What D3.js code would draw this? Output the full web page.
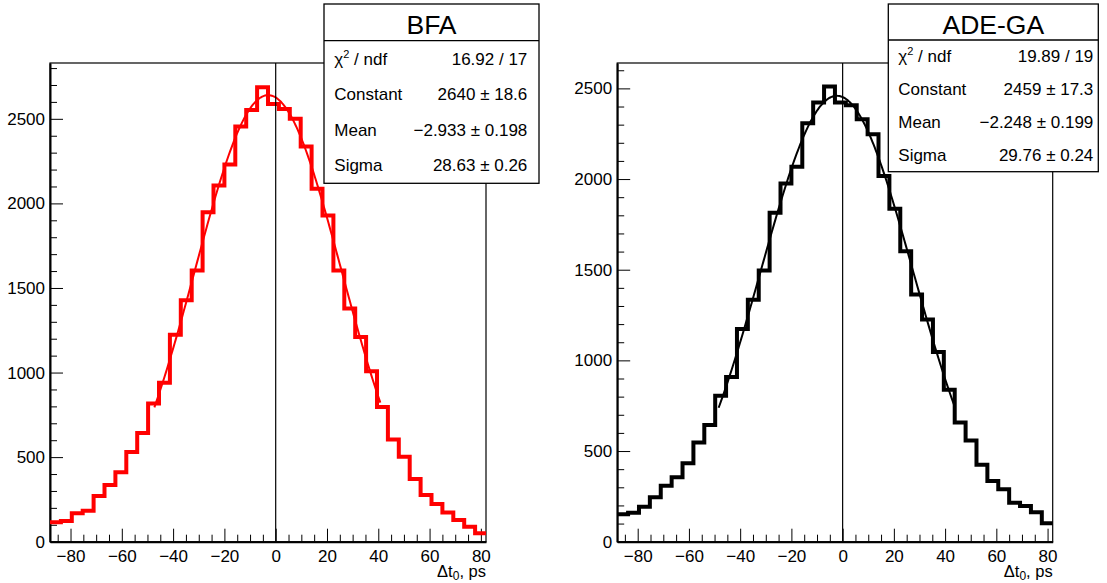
<!DOCTYPE html>
<html>
<head>
<meta charset="utf-8">
<script src="https://cdn.jsdelivr.net/npm/d3@7"></script>
<style>
    body { margin: 0; background: #fff; }
    text { font-family: "Liberation Sans", Arial, Helvetica, sans-serif; fill: #000; }
</style>
</head>
<body>
<svg id="canvas" width="1107" height="583"></svg>
<script>
// histogram range and binning
const xRange = [-88, 82];
const nBins = 40;

// bin contents, left to right
const bfaCounts = [115, 122, 168, 183, 270, 335, 411, 531, 643, 817,
    939, 1224, 1427, 1604, 1948, 2106, 2230, 2454, 2552, 2686,
    2588, 2558, 2500, 2336, 2086, 1929, 1604, 1378, 1210, 1008,
    797, 604, 502, 370, 276, 223, 173, 128, 89, 50];
const adeCounts = [151, 160, 193, 245, 308, 356, 433, 547, 643, 805,
    908, 1173, 1335, 1496, 1814, 1975, 2068, 2308, 2422, 2510,
    2422, 2407, 2330, 2247, 2017, 1836, 1602, 1363, 1225, 1046,
    838, 657, 558, 424, 335, 289, 215, 197, 162, 102];

// gaussian fit parameters [constant, mean, sigma] and fit range
const bfaFitPars = [2640, -2.933, 28.63];
const bfaFitRange = [-47.3, 40.8];
const adeFitPars = [2459, -2.248, 29.76];
const adeFitRange = [-48.4, 43.9];

// stats box text
const statLabels = ["chi2", "Constant", "Mean", "Sigma"];
const bfaStatValues = ["16.92 / 17", "2640 \u00b1 18.6", "\u22122.933 \u00b1 0.198", "28.63 \u00b1 0.26"];
const adeStatValues = ["19.89 / 19", "2459 \u00b1 17.3", "\u22122.248 \u00b1 0.199", "29.76 \u00b1 0.24"];

// ticks
const xMajorTicks = [-80, -60, -40, -20, 0, 20, 40, 60, 80];
const yMajorTicks = [0, 500, 1000, 1500, 2000, 2500];

const panels = [
    {title: "BFA", counts: bfaCounts, color: "#ff0000", pars: bfaFitPars, range: bfaFitRange,
     stats: bfaStatValues, yMax: 2830,
     frame: {x0: 50, x1: 486, y0: 63, y1: 541.7},
     box: {x0: 324, x1: 539, y0: 4, y1: 183.3, sep: 40.7, tx: 334.3, vx: 527.3}},
    {title: "ADE-GA", counts: adeCounts, color: "#000000", pars: adeFitPars, range: adeFitRange,
     stats: adeStatValues, yMax: 2640,
     frame: {x0: 617.2, x1: 1052.7, y0: 63, y1: 541.7},
     box: {x0: 888.3, x1: 1098.3, y0: 4, y1: 171.7, sep: 40, tx: 898.3, vx: 1093.3}}
];

const svg = d3.select("#canvas");
const fontSize = 17;

panels.forEach(p => {
    const f = p.frame;
    const x = d3.scaleLinear().domain(xRange).range([f.x0, f.x1]);
    const y = d3.scaleLinear().domain([0, p.yMax]).range([f.y1, f.y0]);
    const g = svg.append("g");

    // frame
    g.append("rect")
        .attr("x", f.x0).attr("y", f.y0)
        .attr("width", f.x1 - f.x0).attr("height", f.y1 - f.y0)
        .attr("fill", "none").attr("stroke", "#000").attr("stroke-width", 1.2);

    // minor ticks
    const xMinor = d3.range(-85, 81, 5).filter(v => !xMajorTicks.includes(v));
    const yMinor = d3.range(0, p.yMax, 100).filter(v => !yMajorTicks.includes(v));

    g.append("g")
        .attr("transform", "translate(0," + f.y1 + ")")
        .call(d3.axisBottom(x).tickValues(xMinor).tickFormat("").tickSizeInner(-7).tickSizeOuter(0))
        .call(a => a.select(".domain").remove());
    g.append("g")
        .attr("transform", "translate(" + f.x0 + ",0)")
        .call(d3.axisLeft(y).tickValues(yMinor).tickFormat("").tickSizeInner(-7).tickSizeOuter(0))
        .call(a => a.select(".domain").remove());

    // major axes
    const xAxis = g.append("g")
        .attr("transform", "translate(0," + f.y1 + ")")
        .call(d3.axisBottom(x).tickValues(xMajorTicks)
            .tickFormat(d => d < 0 ? "\u2212" + Math.abs(d) : d)
            .tickSizeInner(-13).tickSizeOuter(0).tickPadding(8));
    const yAxis = g.append("g")
        .attr("transform", "translate(" + f.x0 + ",0)")
        .call(d3.axisLeft(y).tickValues(yMajorTicks).tickFormat(d3.format("d"))
            .tickSizeInner(-13).tickSizeOuter(0).tickPadding(5));

    [xAxis, yAxis].forEach(a => {
        a.selectAll("text").attr("font-size", fontSize).attr("font-family", null);
        a.select(".domain").attr("stroke-width", 2);
        a.attr("font-family", null);
    });

    // histogram
    const edges = d3.range(nBins + 1).map(i => xRange[0] + i * (xRange[1] - xRange[0]) / nBins);
    const steps = p.counts.flatMap((c, i) => [[edges[i], c], [edges[i + 1], c]]);
    g.append("path")
        .datum(steps)
        .attr("fill", "none")
        .attr("stroke", p.color)
        .attr("stroke-width", 4)
        .attr("d", d3.line().x(d => x(d[0])).y(d => y(d[1])));

    // fit curve
    const [c0, mu, sg] = p.pars;
    const fitPts = d3.range(201).map(i => {
        const t = p.range[0] + i * (p.range[1] - p.range[0]) / 200;
        return [t, c0 * Math.exp(-0.5 * ((t - mu) / sg) ** 2)];
    });
    g.append("path")
        .datum(fitPts)
        .attr("fill", "none")
        .attr("stroke", p.color)
        .attr("stroke-width", 2)
        .attr("d", d3.line().x(d => x(d[0])).y(d => y(d[1])));

    // line at zero
    g.append("line")
        .attr("x1", x(0)).attr("x2", x(0))
        .attr("y1", y(0)).attr("y2", y(p.yMax))
        .attr("stroke", "#000").attr("stroke-width", 1.2);

    // axis title
    const xt = g.append("text")
        .attr("x", f.x1).attr("y", 577)
        .attr("text-anchor", "end")
        .attr("font-size", 16.5);
    xt.append("tspan").text("\u0394t");
    xt.append("tspan").attr("dy", 3).attr("font-size", 12).text("0");
    xt.append("tspan").attr("dy", -3).text(", ps");

    // stats box
    const b = p.box;
    g.append("rect")
        .attr("x", b.x0).attr("y", b.y0)
        .attr("width", b.x1 - b.x0).attr("height", b.y1 - b.y0)
        .attr("fill", "#fff").attr("stroke", "#000").attr("stroke-width", 1.3);
    g.append("line")
        .attr("x1", b.x0).attr("x2", b.x1)
        .attr("y1", b.sep).attr("y2", b.sep)
        .attr("stroke", "#000").attr("stroke-width", 1.3);
    g.append("text")
        .attr("x", (b.x0 + b.x1) / 2).attr("y", b.sep - 6.4)
        .attr("text-anchor", "middle")
        .attr("font-size", 26.5)
        .text(p.title);

    const rowH = (b.y1 - b.sep) / statLabels.length;
    statLabels.forEach((lab, i) => {
        const base = b.sep + rowH * (i + 0.5) + 6;
        const t = g.append("text").attr("x", b.tx).attr("y", base).attr("font-size", fontSize);
        if (lab === "chi2") {
            t.append("tspan").text("\u03c7");
            t.append("tspan").attr("dy", -7).attr("font-size", 11).text("2");
            t.append("tspan").attr("dy", 7).text(" / ndf");
        } else {
            t.text(lab);
        }
        g.append("text")
            .attr("x", b.vx).attr("y", base)
            .attr("text-anchor", "end")
            .attr("font-size", fontSize)
            .text(p.stats[i]);
    });
});
</script>
</body>
</html>
